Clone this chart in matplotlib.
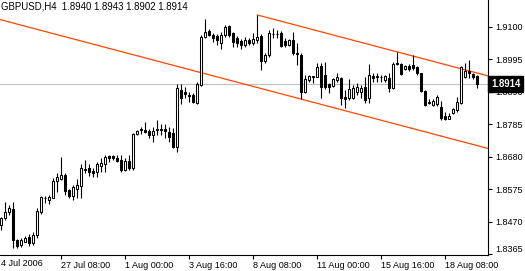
import matplotlib
matplotlib.use("Agg")
import matplotlib.pyplot as plt
import numpy as np

plt.rcParams['font.family'] = ['Liberation Sans', 'DejaVu Sans']

symbol = "GBPUSD,H4"

open_ = [1.8460, 1.8482, 1.8501, 1.8511, 1.8411, 1.8395, 1.8405, 1.8421, 1.8401, 1.8427,
         1.8501, 1.8545, 1.8540, 1.8547, 1.8600, 1.8608, 1.8621, 1.8572, 1.8553, 1.8576,
         1.8585, 1.8639, 1.8644, 1.8634, 1.8631, 1.8650, 1.8657, 1.8682, 1.8682, 1.8676,
         1.8669, 1.8637, 1.8666, 1.8644, 1.8753, 1.8770, 1.8766, 1.8763, 1.8750, 1.8770,
         1.8770, 1.8770, 1.8760, 1.8757, 1.8712, 1.8896, 1.8889, 1.8879, 1.8879, 1.8854,
         1.8912, 1.9067, 1.9086, 1.9073, 1.9070, 1.9047, 1.9073, 1.9102, 1.9080, 1.9063,
         1.9054, 1.9041, 1.9057, 1.9047, 1.9057, 1.9070, 1.8989, 1.9009, 1.9077, 1.9075,
         1.9080, 1.9054, 1.9041, 1.9057, 1.9015, 1.9009, 1.8889, 1.8928, 1.8938, 1.8938,
         1.8973, 1.8944, 1.8915, 1.8908, 1.8928, 1.8934, 1.8873, 1.8870, 1.8870, 1.8889,
         1.8889, 1.8905, 1.8870, 1.8941, 1.8941, 1.8939, 1.8928, 1.8934, 1.8902, 1.8983,
         1.8980, 1.8963, 1.8973, 1.8976, 1.8970, 1.8951, 1.8892, 1.8857, 1.8847, 1.8850,
         1.8841, 1.8811, 1.8802, 1.8821, 1.8831, 1.8854, 1.8938, 1.8957, 1.8947, 1.8940]
high = [1.8485, 1.8534, 1.8524, 1.8534, 1.8414, 1.8418, 1.8424, 1.8431, 1.8437, 1.8514,
        1.8553, 1.8553, 1.8556, 1.8611, 1.8627, 1.8679, 1.8627, 1.8576, 1.8589, 1.8608,
        1.8657, 1.8669, 1.8657, 1.8644, 1.8663, 1.8676, 1.8686, 1.8686, 1.8686, 1.8686,
        1.8686, 1.8676, 1.8686, 1.8757, 1.8766, 1.8776, 1.8792, 1.8770, 1.8776, 1.8799,
        1.8786, 1.8786, 1.8776, 1.8773, 1.8915, 1.8915, 1.8905, 1.8889, 1.8886, 1.8921,
        1.9073, 1.9125, 1.9093, 1.9080, 1.9076, 1.9083, 1.9106, 1.9106, 1.9082, 1.9070,
        1.9060, 1.9067, 1.9063, 1.9080, 1.9138, 1.9076, 1.9015, 1.9089, 1.9096, 1.9089,
        1.9086, 1.9063, 1.9060, 1.9083, 1.9047, 1.9015, 1.8944, 1.8944, 1.8941, 1.8983,
        1.8983, 1.8986, 1.8918, 1.8934, 1.8951, 1.8938, 1.8896, 1.8931, 1.8912, 1.8918,
        1.8912, 1.8938, 1.8980, 1.8951, 1.8951, 1.8944, 1.8944, 1.8951, 1.8986, 1.9018,
        1.8983, 1.8976, 1.8980, 1.9009, 1.8973, 1.8951, 1.8896, 1.8866, 1.8866, 1.8879,
        1.8860, 1.8824, 1.8821, 1.8837, 1.8873, 1.8973, 1.8983, 1.8992, 1.8951, 1.8943]
low = [1.8443, 1.8476, 1.8492, 1.8385, 1.8385, 1.8389, 1.8403, 1.8392, 1.8395, 1.8418,
       1.8495, 1.8531, 1.8527, 1.8545, 1.8566, 1.8605, 1.8556, 1.8547, 1.8540, 1.8547,
       1.8547, 1.8627, 1.8618, 1.8615, 1.8615, 1.8631, 1.8631, 1.8663, 1.8669, 1.8663,
       1.8631, 1.8634, 1.8637, 1.8637, 1.8750, 1.8753, 1.8757, 1.8740, 1.8727, 1.8750,
       1.8750, 1.8740, 1.8727, 1.8708, 1.8695, 1.8850, 1.8870, 1.8857, 1.8854, 1.8850,
       1.8908, 1.9063, 1.9070, 1.9051, 1.9041, 1.9028, 1.9067, 1.9067, 1.9034, 1.9034,
       1.9028, 1.9034, 1.9041, 1.9041, 1.9047, 1.8960, 1.8983, 1.9002, 1.9063, 1.9063,
       1.9034, 1.9034, 1.9038, 1.9009, 1.8976, 1.8866, 1.8886, 1.8921, 1.8918, 1.8938,
       1.8870, 1.8899, 1.8886, 1.8905, 1.8921, 1.8847, 1.8837, 1.8863, 1.8866, 1.8879,
       1.8870, 1.8854, 1.8854, 1.8921, 1.8921, 1.8921, 1.8921, 1.8889, 1.8899, 1.8976,
       1.8944, 1.8960, 1.8957, 1.8960, 1.8944, 1.8889, 1.8844, 1.8850, 1.8844, 1.8844,
       1.8799, 1.8799, 1.8802, 1.8818, 1.8824, 1.8850, 1.8934, 1.8934, 1.8931, 1.8902]
close = [1.8482, 1.8501, 1.8514, 1.8411, 1.8392, 1.8411, 1.8418, 1.8401, 1.8427, 1.8505,
         1.8550, 1.8548, 1.8550, 1.8602, 1.8615, 1.8621, 1.8569, 1.8553, 1.8582, 1.8589,
         1.8644, 1.8637, 1.8631, 1.8627, 1.8657, 1.8660, 1.8679, 1.8676, 1.8676, 1.8666,
         1.8637, 1.8666, 1.8644, 1.8753, 1.8763, 1.8766, 1.8760, 1.8750, 1.8763, 1.8766,
         1.8766, 1.8763, 1.8744, 1.8712, 1.8902, 1.8870, 1.8884, 1.8875, 1.8857, 1.8915,
         1.9067, 1.9083, 1.9073, 1.9063, 1.9057, 1.9073, 1.9099, 1.9073, 1.9051, 1.9047,
         1.9041, 1.9057, 1.9047, 1.9060, 1.9067, 1.8989, 1.9009, 1.9080, 1.9075, 1.9077,
         1.9038, 1.9041, 1.9057, 1.9015, 1.9012, 1.8889, 1.8931, 1.8941, 1.8940, 1.8970,
         1.8905, 1.8905, 1.8905, 1.8931, 1.8938, 1.8870, 1.8866, 1.8899, 1.8902, 1.8905,
         1.8902, 1.8863, 1.8944, 1.8934, 1.8936, 1.8937, 1.8941, 1.8902, 1.8980, 1.8980,
         1.8947, 1.8973, 1.8963, 1.8967, 1.8951, 1.8892, 1.8847, 1.8854, 1.8860, 1.8873,
         1.8805, 1.8802, 1.8811, 1.8834, 1.8857, 1.8970, 1.8957, 1.8951, 1.8938, 1.8914]

# x-axis labels (bar index -> label)
tick_idx = [15, 31, 47, 63, 79, 95, 111]
tick_labels = ["27 Jul 08:00", "1 Aug 00:00", "3 Aug 16:00", "8 Aug 08:00",
               "11 Aug 00:00", "15 Aug 16:00", "18 Aug 08:00"]
first_label = "4 Jul 2006"

# price scale labels
price_ticks = [1.8365, 1.8470, 1.8575, 1.8680, 1.8785, 1.8890, 1.8995, 1.9100]

# channel (bar index, price)
lower_idx = [0, 75]
lower_price = [1.9122, 1.8866]
upper_start_idx = 64
upper_start_price = 1.9138

y_min, y_max = 1.83624, 1.91863
x_min, x_max = -0.325, 121.675

W, H = 525, 271
fig = plt.figure(figsize=(W / 100, H / 100), dpi=100)
fig.patch.set_facecolor("white")
ax = fig.add_axes([0, 16 / H, 488 / W, 255 / H])
ax.set_facecolor("white")
ax.set_xlim(x_min, x_max)
ax.set_ylim(y_min, y_max)

o = np.array(open_); h = np.array(high); l = np.array(low); c = np.array(close)
idx = np.arange(len(o))

# current price line
ax.axhline(c[-1], color="#c0c0c0", lw=0.8, zorder=1)

# channel lines
slope = (lower_price[1] - lower_price[0]) / (lower_idx[1] - lower_idx[0])
xs = np.array([x_min - 5, x_max + 5])
ax.plot(xs, lower_price[0] + slope * (xs - lower_idx[0]), color="#ff4500", lw=0.9, zorder=2)
xu = np.array([upper_start_idx, x_max + 5])
ax.plot(xu, upper_start_price + slope * (xu - upper_start_idx), color="#ff4500", lw=0.9, zorder=2)

# candles
ax.vlines(idx, l, h, color="black", lw=0.8, zorder=3)
bull = c >= o
bottoms = np.minimum(o, c)
heights = np.maximum(np.abs(c - o), 0.00005)
ax.bar(idx[bull], heights[bull], bottom=bottoms[bull], width=0.52,
       facecolor="white", edgecolor="black", lw=0.75, zorder=4)
ax.bar(idx[~bull], heights[~bull], bottom=bottoms[~bull], width=0.52,
       facecolor="black", edgecolor="black", lw=0.75, zorder=4)

# spines
for s in ["top", "left"]:
    ax.spines[s].set_visible(False)
for s in ["bottom", "right"]:
    ax.spines[s].set_color("black")
    ax.spines[s].set_linewidth(0.8)

fs = 6.5
ax.yaxis.tick_right()
ax.set_yticks(price_ticks)
ax.set_yticklabels([f"{p:.4f}" for p in price_ticks])
ax.tick_params(axis="y", direction="out", length=3, width=0.8, pad=2, labelsize=fs, colors="black")
ax.get_yticklabels()[0].set_va("bottom")

ax.set_xticks(tick_idx)
ax.set_xticklabels(tick_labels)
ax.tick_params(axis="x", direction="out", length=3, width=0.8, pad=1.5, labelsize=fs, colors="black")
for t in ax.get_xticklabels():
    t.set_ha("left")

fig.text(1 / W, 1 - 263 / H, first_label, fontsize=fs, va="center", ha="left", color="black")

# header
fig.text(1 / W, 1 - 6.5 / H,
         f"{symbol}  {open_[-1]:.4f} {high[-1]:.4f} {low[-1]:.4f} {close[-1]:.4f}",
         fontsize=6.9, va="center", ha="left", color="black")

# current price box
ax.text(1.006, c[-1], f"{c[-1]:.4f}", transform=ax.get_yaxis_transform(),
        fontsize=6.9, color="white", fontweight="bold", va="center", ha="left",
        bbox=dict(boxstyle="square,pad=0.3", fc="black", ec="black"), clip_on=False, zorder=10)

fig.savefig("out.png", dpi=100, facecolor="white")
